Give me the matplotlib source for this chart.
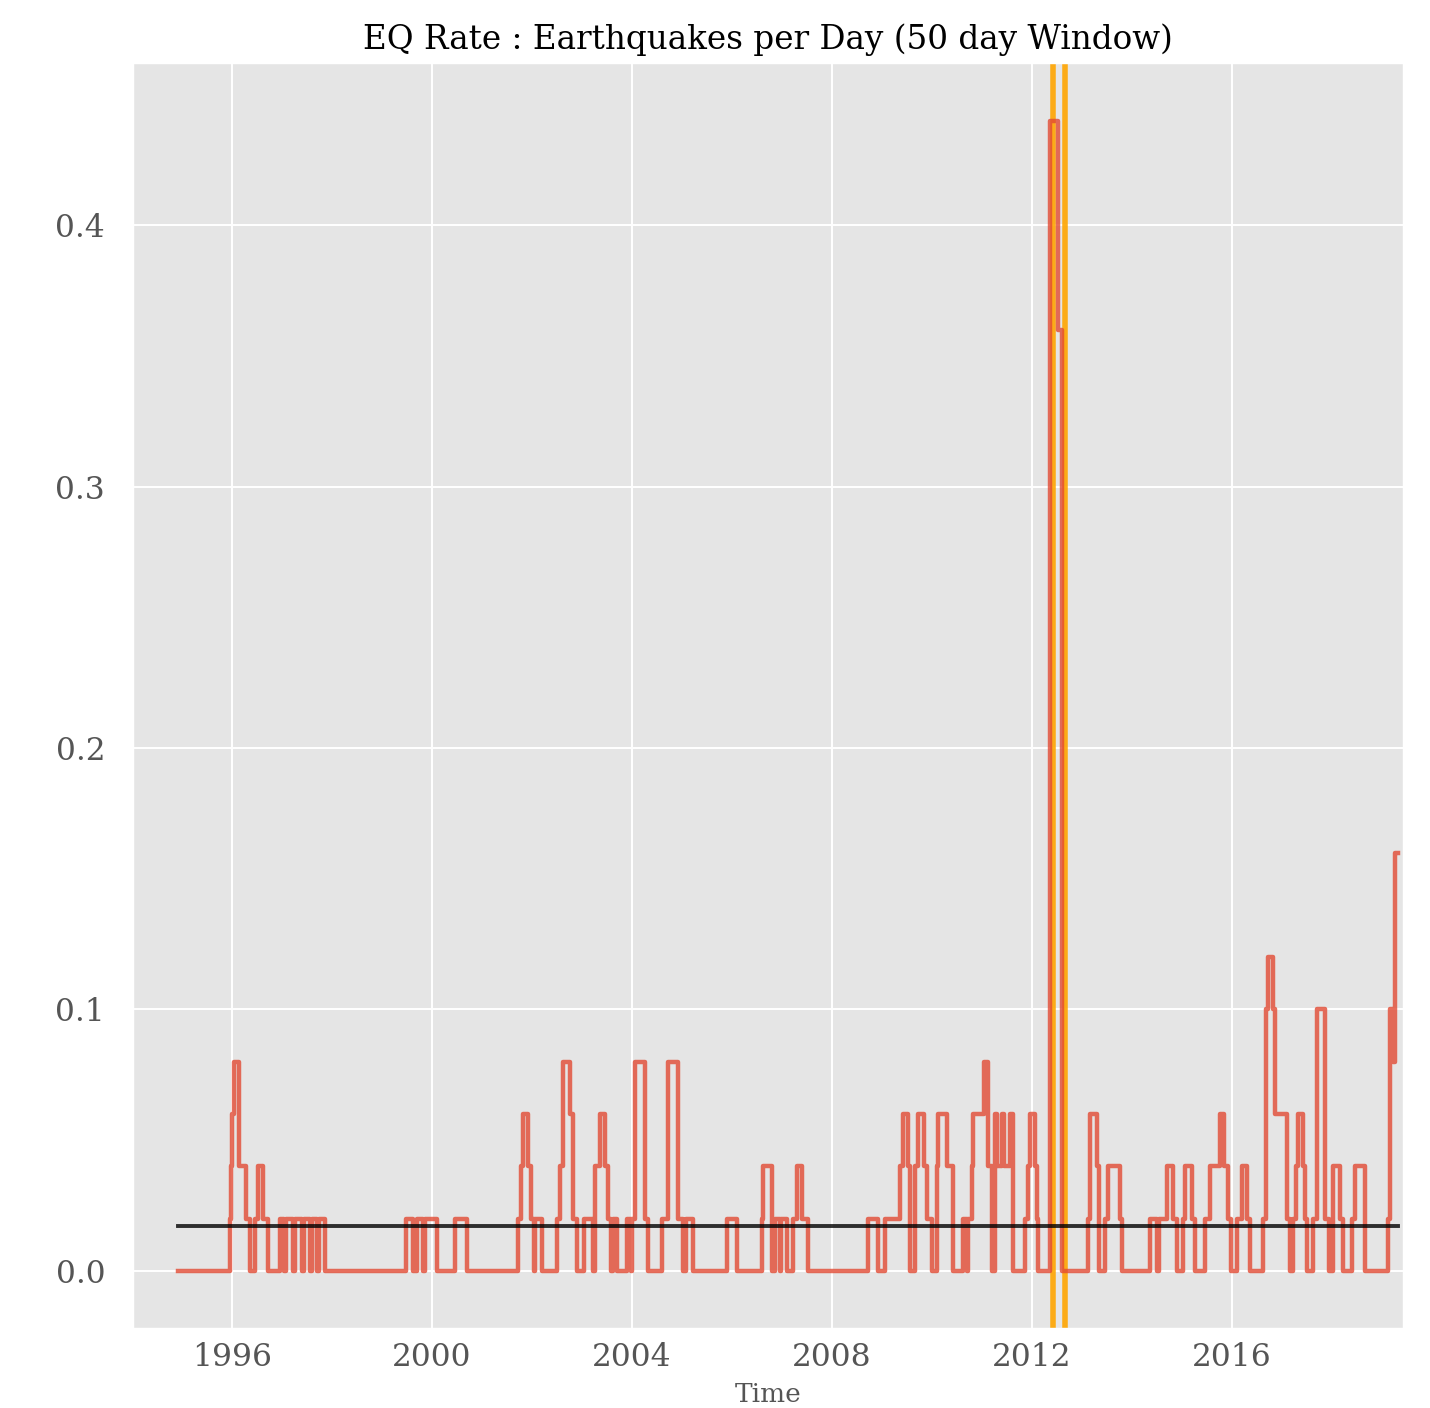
import numpy as np
import matplotlib
matplotlib.use('Agg')
import matplotlib.pyplot as plt

plt.style.use('ggplot')
plt.rcParams['font.family'] = ['DejaVu Serif']

# step series: rate holds from step_years[i] until step_years[i+1]
step_years = [
    1994.92, 1995.96, 1995.98, 1996.00, 1996.04, 1996.14, 1996.29, 1996.36,
    1996.46, 1996.52, 1996.62, 1996.72,
    1996.96, 1997.04, 1997.08, 1997.22, 1997.26, 1997.40, 1997.44, 1997.56,
    1997.60, 1997.70, 1997.74, 1997.86,
    1999.48, 1999.62, 1999.70, 1999.82, 1999.86, 2000.10, 2000.46, 2000.70,
    2001.72, 2001.78, 2001.82, 2001.92, 2001.98, 2002.04, 2002.06, 2002.20,
    2002.50, 2002.56, 2002.62, 2002.76, 2002.82, 2002.90, 2003.04, 2003.22,
    2003.26, 2003.36, 2003.46, 2003.52, 2003.58, 2003.62, 2003.70, 2003.90,
    2003.98, 2004.00, 2004.06, 2004.26, 2004.32, 2004.60, 2004.72, 2004.92,
    2005.02, 2005.08, 2005.22, 2005.90, 2006.10, 2006.60, 2006.62, 2006.80,
    2006.86, 2006.96, 2006.99, 2007.10, 2007.22, 2007.30, 2007.40, 2007.52,
    2008.72, 2008.92, 2009.06, 2009.36, 2009.42, 2009.52, 2009.56, 2009.66,
    2009.72, 2009.84, 2009.90, 2010.00, 2010.10, 2010.12, 2010.30, 2010.42,
    2010.62, 2010.70, 2010.73, 2010.80, 2010.82, 2011.04, 2011.12, 2011.20,
    2011.26, 2011.30, 2011.40, 2011.44, 2011.56, 2011.62, 2011.86, 2011.92,
    2011.96, 2012.06, 2012.10, 2012.12, 2012.36, 2012.38, 2012.52, 2012.60,
    2012.72, 2013.12, 2013.16, 2013.30, 2013.34, 2013.46, 2013.52, 2013.56,
    2013.76, 2013.80, 2014.36, 2014.50, 2014.54, 2014.66, 2014.70, 2014.82,
    2014.86, 2014.90, 2015.02, 2015.06, 2015.20, 2015.26, 2015.46, 2015.56,
    2015.76, 2015.84, 2015.92, 2015.98, 2016.10, 2016.20, 2016.30, 2016.36,
    2016.62, 2016.68, 2016.70, 2016.72, 2016.82, 2016.86, 2017.10, 2017.16,
    2017.22, 2017.28, 2017.32, 2017.42, 2017.46, 2017.50, 2017.62, 2017.68,
    2017.70, 2017.86, 2017.94, 2018.02, 2018.16, 2018.22, 2018.40, 2018.46,
    2018.66, 2019.12, 2019.16, 2019.22, 2019.26, 2019.32,
]
step_rates = [
    0.00, 0.02, 0.04, 0.06, 0.08, 0.04, 0.02, 0.00,
    0.02, 0.04, 0.02, 0.00,
    0.02, 0.00, 0.02, 0.00, 0.02, 0.00, 0.02, 0.00,
    0.02, 0.00, 0.02, 0.00,
    0.02, 0.00, 0.02, 0.00, 0.02, 0.00, 0.02, 0.00,
    0.02, 0.04, 0.06, 0.04, 0.02, 0.00, 0.02, 0.00,
    0.02, 0.04, 0.08, 0.06, 0.02, 0.00, 0.02, 0.00,
    0.04, 0.06, 0.04, 0.02, 0.00, 0.02, 0.00, 0.02,
    0.00, 0.02, 0.08, 0.02, 0.00, 0.02, 0.08, 0.02,
    0.00, 0.02, 0.00, 0.02, 0.00, 0.02, 0.04, 0.00,
    0.02, 0.00, 0.02, 0.00, 0.02, 0.04, 0.02, 0.00,
    0.02, 0.00, 0.02, 0.04, 0.06, 0.04, 0.00, 0.04,
    0.06, 0.04, 0.02, 0.00, 0.04, 0.06, 0.04, 0.00,
    0.02, 0.00, 0.02, 0.04, 0.06, 0.08, 0.04, 0.00,
    0.06, 0.04, 0.06, 0.04, 0.06, 0.00, 0.02, 0.04,
    0.06, 0.04, 0.02, 0.00, 0.44, 0.44, 0.36, 0.00,
    0.00, 0.02, 0.06, 0.04, 0.00, 0.02, 0.04, 0.04,
    0.02, 0.00, 0.02, 0.00, 0.02, 0.02, 0.04, 0.02,
    0.02, 0.00, 0.02, 0.04, 0.02, 0.00, 0.02, 0.04,
    0.06, 0.04, 0.02, 0.00, 0.02, 0.04, 0.02, 0.00,
    0.02, 0.10, 0.10, 0.12, 0.10, 0.06, 0.02, 0.00,
    0.02, 0.04, 0.06, 0.04, 0.02, 0.00, 0.02, 0.02,
    0.10, 0.02, 0.00, 0.04, 0.02, 0.00, 0.02, 0.04,
    0.00, 0.02, 0.10, 0.08, 0.16, 0.16,
]

mean_rate = 0.0172
mean_span = [1994.92, 2019.32]
marker_years = [2012.42, 2012.66]
year_ticks = [1996, 2000, 2004, 2008, 2012, 2016]


def plot_rate():
    fig = plt.figure(figsize=(14.3, 14.08), dpi=100)
    ax = fig.add_axes([0.093, 0.057, 0.888, 0.898])

    for yr in marker_years:
        ax.axvline(yr, color='orange', lw=4, alpha=0.9, zorder=1)

    ax.step(step_years, step_rates, where='post', color='#E24A33', lw=3.2, alpha=0.8, zorder=2)
    ax.plot(mean_span, [mean_rate, mean_rate], color='k', lw=2.8, alpha=0.8, zorder=3)

    ax.set_xlim(1994.02, 2019.42)
    ax.set_ylim(-0.0218, 0.462)
    ax.set_xticks(year_ticks)
    ax.set_xticklabels([str(y) for y in year_ticks])
    ax.set_yticks([0.0, 0.1, 0.2, 0.3, 0.4])
    ax.tick_params(labelsize=22.5, length=0)
    ax.tick_params(axis='y', pad=20)
    ax.tick_params(axis='x', pad=10)
    ax.grid(True, color='white', lw=1.4)

    ax.set_title('EQ Rate : Earthquakes per Day (50 day Window)', fontsize=23.5, pad=10)
    ax.set_xlabel('Time', fontsize=19, labelpad=7)

    fig.savefig('out.png', dpi=100)
    plt.close(fig)


if __name__ == '__main__':
    plot_rate()
